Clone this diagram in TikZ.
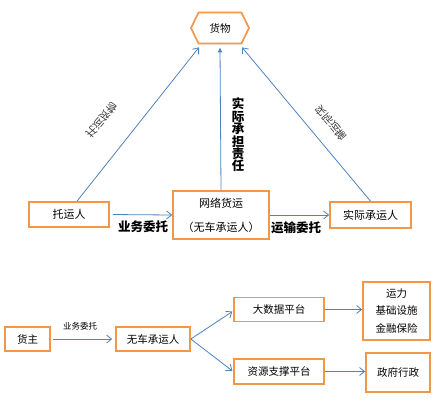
\documentclass[tikz,border=0pt]{standalone}
\usepackage{fontspec}
\usepackage{tikz}
\usetikzlibrary{arrows.meta,shapes.symbols,positioning}
\newfontfamily\cjk{Noto Sans CJK SC}
\definecolor{boxorange}{RGB}{242,150,72}
\definecolor{lineblue}{RGB}{79,129,189}

\begin{document}
\begin{tikzpicture}[x=1pt,y=1pt,font=\cjk]
			\tikzstyle{Box}		= [rectangle, draw=boxorange, line width=1.7pt, fill=white, inner sep=2pt, font=\cjk\fontsize{11}{13}\selectfont]
			\tikzstyle{SmallBox}	= [Box, font=\cjk\fontsize{10.5}{17.5}\selectfont, align=center]
			\tikzstyle{Goods}	= [signal, signal to=east and west, signal pointer angle=128, draw=boxorange, line width=1.7pt, fill=white, minimum width=58pt, minimum height=31pt, inner sep=0pt, font=\cjk\fontsize{10.5}{12}\selectfont]
			\tikzstyle{Link}		= [lineblue, line width=0.8pt, -{Straight Barb[length=5pt,width=8pt]}]
			\tikzstyle{Duty}		= [lineblue, line width=0.8pt, -{Latex[length=5pt,width=5pt]}]
			\tikzstyle{Tag}		= [font=\cjk\bfseries\fontsize{12.5}{13}\selectfont]
			\tikzstyle{Slant}	= [font=\cjk\fontsize{10.5}{12}\selectfont, text=black!80, transform shape]

			\useasboundingbox (0,0) rectangle (435,-404);

			% upper part
			\node (goods) at (220,-28) [Goods] {货物};
			\node (shipper) at (69,-214.5) [Box, minimum width=80pt, minimum height=25pt] {托运人};
			\node (platform) at (221,-215) [Box, minimum width=96pt, minimum height=48pt, align=center, font=\cjk\fontsize{11}{24}\selectfont] {网络货运\\（无车承运人）};
			\node (carrier) at (370.5,-215) [Box, minimum width=81pt, minimum height=26pt] {实际承运人};

			\coordinate (gl) at ([xshift=-21pt,yshift=-3pt]goods.south);
			\coordinate (gm) at ([yshift=-3pt]goods.south);
			\coordinate (gr) at ([xshift=22pt,yshift=-3pt]goods.south);

			\draw [Link] ([xshift=8pt]shipper.north) to (gl);
			\draw [Duty] (platform.north) to (gm);
			\draw [Link] (carrier.north) to (gr);
			\draw [Link, shorten <=3pt] (shipper.east) to (platform.west);
			\draw [Link] (platform.east) to (carrier.west);

			\node (entrust) at (143,-227) [Tag] {业务委托};
			\node (transport) at (296,-228) [Tag] {运输委托};
			\node (bear) at (238,-135) [Tag, align=center, font=\cjk\bfseries\fontsize{12.5}{12.4}\selectfont] {实\\际\\承\\担\\责\\任};

			\begin{scope}[shift={(102,-120)}, rotate=50, yscale=-1]
				\node (own) at (0,0) [Slant] {托运货物};
			\end{scope}
			\begin{scope}[shift={(331,-123)}, rotate=-50, yscale=-1]
				\node (haul) at (0,0) [Slant] {实际运输};
			\end{scope}

			% lower part
			\node (owner) at (27.5,-339) [SmallBox, minimum width=45pt, minimum height=24pt] {货主};
			\node (nvocc) at (153,-339) [SmallBox, minimum width=74pt, minimum height=24pt] {无车承运人};
			\node (bigdata) at (279,-309.5) [SmallBox, minimum width=90pt, minimum height=24pt] {大数据平台};
			\node (support) at (279,-371.5) [SmallBox, minimum width=90pt, minimum height=25pt] {资源支撑平台};
			\node (capacity) at (396.5,-311) [SmallBox, minimum width=67pt, minimum height=58pt] {运力\\基础设施\\金融保险};
			\node (gov) at (398,-372.5) [SmallBox, minimum width=64pt, minimum height=39pt] {政府行政};

			\draw [Link, shorten <=2pt, shorten >=3pt] (owner.east) to (nvocc.west);
			\node (entrust2) at (80,-326) [font=\cjk\fontsize{8.5}{10}\selectfont] {业务委托};
			\foreach \a/\b in {bigdata/-1.5, support/0}
				\draw [Link, shorten >=1pt] (nvocc.east) to ([yshift=\b pt]\a.west);
			\draw [Link] (bigdata.east) to (bigdata.east -| capacity.west);
			\draw [Link] (support.east) to (support.east -| gov.west);
\end{tikzpicture}
\end{document}
